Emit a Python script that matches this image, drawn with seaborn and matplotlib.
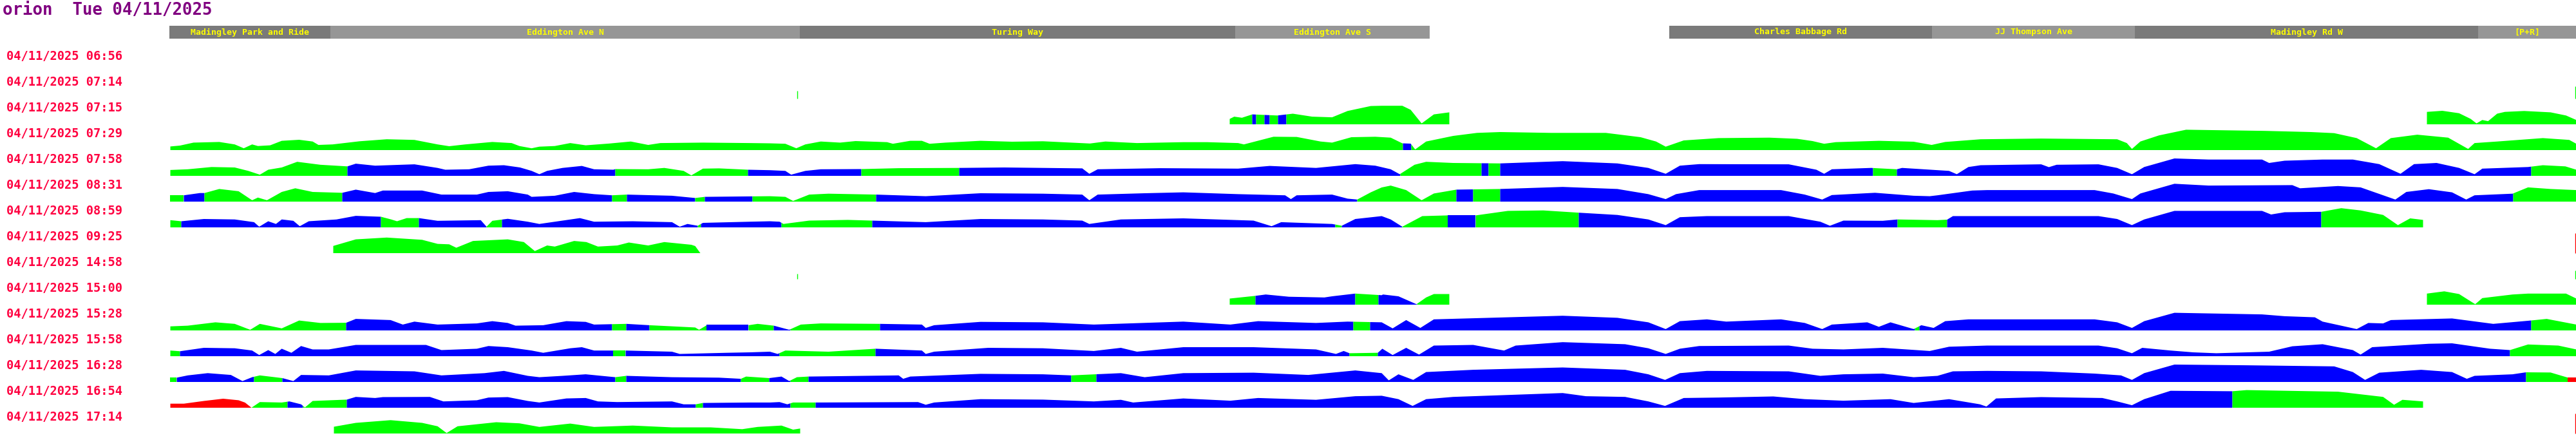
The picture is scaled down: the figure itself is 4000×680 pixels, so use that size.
import numpy as np
import matplotlib
matplotlib.use("Agg")
import matplotlib.pyplot as plt
import seaborn as sns

# ---------------- data ----------------
TITLE = "orion  Tue 04/11/2025"
ROW_TIMES = ["06:56", "07:14", "07:15", "07:29", "07:58", "08:31", "08:59", "09:25",
             "14:58", "15:00", "15:28", "15:58", "16:28", "16:54", "17:14"]
DATE = "04/11/2025"

HEADER_NAMES = ["Madingley Park and Ride", "Eddington Ave N", "Turing Way", "Eddington Ave S",
                "Charles Babbage Rd", "JJ Thompson Ave", "Madingley Rd W", "[P+R]"]
HEADER_START = [263, 513, 1242, 1918, 2592, 3000, 3315, 3848]
HEADER_END = [513, 1242, 1918, 2220, 3000, 3315, 3848, 4000]
HEADER_SHADE = ["d", "l", "d", "l", "d", "l", "d", "l"]

# profiles: (position along route, height)
ROW2 = [(1909, 8.4), (1916, 11.9), (1928, 10.2), (1944, 15.4), (1983, 13.7), (2007, 16.5), (2037, 11.9),
        (2068, 10.9), (2092, 20.7), (2128, 28.4), (2145, 28.8), (2177, 28.8), (2190, 22.5), (2207, 1.4),
        (2226, 15.4), (2250, 18.6),
        (3768, 19.3), (3792, 21), (3818, 17.2), (3836, 8.4), (3845, 1.4), (3854, 6.7), (3863, 4.9),
        (3877, 16.5), (3889, 19.3), (3919, 20.7), (3960, 18.6), (3984, 13.7), (4000, 6.7)]
SEG2 = [(1909, 1944, "g"), (1944, 1950, "b"), (1950, 1963, "g"), (1963, 1971, "b"), (1971, 1984, "g"),
        (1984, 1997, "b"), (1997, 2250, "g"), (3768, 4000, "g")]

ROW3 = [(264, 5.6), (279, 7), (300, 11.6), (340, 12.6), (364, 8.8), (378, 2.8), (391, 8.8), (400, 6.3),
        (419, 7.4), (437, 14.4), (464, 16), (485, 13.3), (494, 8), (516, 8.8), (558, 13.7), (600, 16.8),
        (643, 15.8), (679, 8.8), (697, 6), (722, 8.8), (764, 12.6), (794, 10.9), (806, 6.3), (825, 2.8),
        (837, 5.3), (861, 6.3), (885, 10.9), (909, 7.4), (946, 10.2), (979, 13.3), (1006, 8), (1025, 10.9),
        (1091, 11.6), (1164, 10.9), (1195, 10.5), (1219, 9.8), (1236, 2.8), (1250, 8.8), (1274, 13.3),
        (1304, 11.6), (1328, 14), (1377, 12.3), (1386, 9.8), (1413, 14.4), (1431, 14.4), (1443, 9.8),
        (1468, 11.6), (1522, 14.4), (1571, 13), (1619, 13.7), (1692, 10.2), (1716, 13.3), (1765, 10.9),
        (1837, 12.3), (1874, 12.3), (1922, 10.9), (1931, 8.8), (1977, 20.7), (2013, 20.4), (2037, 15.8),
        (2050, 13.3), (2068, 11.6), (2098, 20), (2135, 20.7), (2159, 19.3), (2177, 10.5), (2190, 10),
        (2197, 1), (2214, 13.3), (2256, 22), (2293, 26.7), (2329, 28), (2408, 26.7), (2493, 26.7),
        (2547, 20), (2571, 13.3), (2586, 5.3), (2614, 15), (2668, 18.6), (2747, 19.3), (2790, 17.5),
        (2814, 14), (2832, 9.8), (2850, 12.3), (2917, 14.4), (2971, 13), (2999, 8), (3020, 12.6),
        (3075, 16.8), (3169, 17.9), (3287, 16.8), (3302, 10.9), (3310, 1.8), (3323, 13.3), (3352, 22.8),
        (3394, 31.6), (3517, 29.8), (3588, 28), (3624, 26.3), (3659, 18.6), (3689, 2.8), (3712, 18.6),
        (3753, 23.9), (3801, 19.3), (3832, 1.8), (3842, 10.9), (3877, 13.3), (3948, 18.6), (3989, 15.8),
        (4000, 9.8)]
SEG3 = [(264, 2178, "g"), (2178, 2191, "b"), (2191, 4000, "g")]

ROW4 = [(264, 9.1), (291, 10.2), (328, 13.7), (364, 13), (385, 7.7), (403, 1.8), (416, 9.5), (437, 13),
        (461, 21.8), (497, 17.2), (539, 14.7), (552, 18.9), (582, 15.8), (643, 17.9), (679, 12.3),
        (691, 9.5), (728, 10.2), (758, 15.8), (782, 16.5), (807, 13), (825, 7.7), (837, 2.5), (849, 7.7),
        (873, 12.3), (903, 15.4), (922, 10.2), (952, 9.5), (955, 10.5), (1006, 10.2), (1031, 12.3),
        (1061, 7.7), (1073, 0.7), (1091, 11.2), (1116, 11.6), (1161, 9.5), (1195, 8.8), (1219, 7.7),
        (1228, 1.8), (1250, 7.7), (1274, 10.2), (1337, 10.5), (1395, 11.9), (1489, 12.3), (1559, 13),
        (1680, 11.6), (1691, 3.2), (1704, 10.2), (1801, 11.9), (1922, 11.2), (1971, 15.4), (2043, 12.3),
        (2104, 18.2), (2135, 15.8), (2159, 10.2), (2173, 2.5), (2196, 17.2), (2214, 21.8), (2256, 20),
        (2329, 19.3), (2426, 22.8), (2511, 19.3), (2559, 12.3), (2586, 3.2), (2608, 15.8), (2638, 18.2),
        (2777, 17.9), (2820, 9.5), (2832, 3.2), (2844, 10.2), (2905, 12.3), (2945, 10.2), (2953, 12.3),
        (3026, 7.7), (3038, 2.5), (3056, 13.7), (3075, 16.5), (3169, 17.9), (3181, 13.5), (3193, 17.2),
        (3258, 17.9), (3287, 12.3), (3310, 2.5), (3329, 13.7), (3376, 27), (3429, 25.3), (3512, 25.3),
        (3523, 20), (3547, 23.5), (3606, 25.3), (3653, 25.3), (3694, 18.2), (3727, 3.2), (3748, 18.2),
        (3783, 20), (3818, 12.3), (3842, 2.5), (3854, 11.2), (3925, 13.7), (3948, 16.5), (3983, 14.7),
        (4000, 9.5)]
SEG4 = [(264, 539, "g"), (539, 955, "b"), (955, 1161, "g"), (1161, 1337, "b"), (1337, 1489, "g"),
        (1489, 2174, "b"), (2174, 2300, "g"), (2300, 2311, "b"), (2311, 2329, "g"), (2329, 2908, "b"),
        (2908, 2945, "g"), (2945, 3930, "b"), (3930, 4000, "g")]

ROW5 = [(264, 9.8), (285, 9.8), (310, 13.3), (317, 13.3), (340, 19.6), (370, 16.1), (391, 2.1), (400, 6.3),
        (414, 2.1), (437, 15), (458, 20.7), (485, 15), (531, 13.7), (552, 18.6), (582, 13.3), (594, 17.2),
        (655, 17.2), (685, 10.9), (740, 10.9), (758, 15), (788, 16.1), (819, 10.9), (825, 7.4), (861, 9.1),
        (891, 15), (922, 11.6), (950, 9.8), (973, 10.9), (1043, 9.1), (1079, 5.6), (1094, 7.4), (1164, 8.1),
        (1195, 8.4), (1219, 7.4), (1231, 1), (1256, 10.9), (1286, 12.3), (1360, 10.9), (1437, 8.4),
        (1522, 13), (1619, 12.3), (1680, 10.9), (1691, 2.1), (1704, 10.9), (1777, 13), (1837, 14.4),
        (1922, 11.6), (1995, 9.8), (2004, 3.9), (2013, 9.8), (2068, 10.9), (2092, 4.6), (2107, 3.2),
        (2128, 14.4), (2145, 22), (2159, 24.9), (2183, 17.9), (2207, 2.1), (2226, 12.6), (2261, 18.6),
        (2329, 19.6), (2426, 22.8), (2511, 19.6), (2559, 11.6), (2586, 3.9), (2602, 11.6), (2638, 17.9),
        (2765, 17.9), (2802, 10.9), (2829, 3.2), (2844, 10.2), (2911, 13.7), (2971, 9.1), (2996, 8.4),
        (3008, 9.8), (3062, 17.2), (3085, 17.9), (3252, 17.9), (3281, 12.6), (3310, 3.9), (3323, 12.6),
        (3376, 27.7), (3429, 24.9), (3559, 25.6), (3571, 20.7), (3630, 24.2), (3665, 22.1), (3719, 3.2),
        (3736, 15), (3771, 19.3), (3807, 14.4), (3829, 3.2), (3842, 9.8), (3901, 12.3), (3925, 22.1),
        (3960, 19.6), (4000, 17.9)]
SEG5 = [(264, 285, "g"), (285, 317, "b"), (317, 531, "g"), (531, 950, "b"), (950, 973, "g"),
        (973, 1079, "b"), (1079, 1094, "g"), (1094, 1168, "b"), (1168, 1360, "g"), (1360, 2107, "b"),
        (2107, 2261, "g"), (2261, 2287, "b"), (2287, 2329, "g"), (2329, 3902, "b"), (3902, 4000, "g")]

ROW6 = [(264, 11.2), (281, 9.5), (316, 13), (364, 12.3), (394, 8.1), (402, 1), (416, 9.5), (428, 5.3),
        (437, 12.3), (455, 10.2), (465, 1.8), (479, 9.5), (522, 12.3), (552, 17.9), (591, 16.5), (607, 12.3),
        (616, 9.5), (631, 14.4), (650, 14.4), (679, 10.2), (746, 11.2), (755, 1), (764, 10.2), (788, 13.3),
        (819, 8.8), (837, 5.3), (873, 10.5), (900, 14.4), (922, 8.8), (982, 9.5), (1043, 8.1), (1055, 1),
        (1067, 5.3), (1083, 2.5), (1091, 7), (1164, 8.8), (1195, 9.5), (1210, 8.8), (1216, 5.3), (1256, 10.5),
        (1316, 11.6), (1354, 10.5), (1437, 8.1), (1522, 13), (1619, 12.3), (1680, 10.5), (1691, 5.3),
        (1740, 12.3), (1837, 14), (1946, 10.5), (1974, 1.8), (1989, 8.1), (2068, 5.3), (2083, 2.5),
        (2104, 13), (2145, 17.5), (2159, 12.3), (2177, 1), (2208, 17.5), (2248, 18.6), (2291, 18.6),
        (2341, 25.6), (2396, 26.3), (2451, 22.8), (2511, 19.3), (2559, 12.3), (2586, 3.5), (2608, 15.8),
        (2650, 17.5), (2777, 17.5), (2826, 8.8), (2841, 2.5), (2862, 10.5), (2923, 10.2), (2946, 12.3),
        (3008, 11.2), (3023, 12), (3032, 17.5), (3085, 17.5), (3258, 17.5), (3287, 13), (3310, 3.5),
        (3329, 12.3), (3376, 25.6), (3512, 25.6), (3526, 20), (3547, 23.5), (3604, 24.2), (3635, 29.8),
        (3665, 26.3), (3700, 19.3), (3723, 3.5), (3742, 14), (3762, 11.6)]
SEG6 = [(264, 281, "g"), (281, 591, "b"), (591, 650, "g"), (650, 755, "b"), (755, 779, "g"),
        (779, 1083, "b"), (1083, 1088, "g"), (1088, 1213, "b"), (1213, 1354, "g"), (1354, 2073, "b"),
        (2073, 2083, "g"), (2083, 2177, "b"), (2177, 2248, "g"), (2248, 2291, "b"), (2291, 2451, "g"),
        (2451, 2946, "b"), (2946, 3023, "g"), (3023, 3604, "b"), (3604, 3762, "g")]

ROW7 = [(517, 11.2), (552, 21.4), (600, 24.2), (655, 20.7), (679, 14.4), (697, 13.7), (708, 8.4),
        (734, 18.9), (788, 21.4), (813, 17.2), (830, 3.2), (849, 11.9), (861, 10.2), (891, 18.9),
        (910, 17.2), (928, 10.2), (958, 11.9), (976, 16.5), (1006, 11.9), (1031, 17.2), (1073, 13),
        (1079, 11), (1087, 0)]
SEG7 = [(517, 1087, "g")]

ROW9 = [(1909, 9.5), (1949, 13.7), (1965, 15.8), (2001, 12.3), (2056, 11.2), (2068, 13), (2104, 17.2),
        (2145, 14.7), (2147, 15.8), (2171, 13), (2199, 0.7), (2214, 11.2), (2226, 16.5), (2250, 16.5),
        (3768, 17.2), (3795, 20.7), (3818, 16.5), (3843, 0.7), (3854, 10.2), (3901, 15.8), (3925, 17.2),
        (3984, 17.2), (4000, 9.5)]
SEG9 = [(1909, 1949, "g"), (1949, 2104, "b"), (2104, 2140, "g"), (2140, 2200, "b"), (2200, 2250, "g"),
        (3768, 4000, "g")]

ROW10 = [(264, 6.3), (291, 7.4), (334, 12.6), (364, 10.2), (388, 1), (403, 10.2), (437, 3.2), (464, 15.4),
         (497, 11.6), (537, 11.9), (552, 17.9), (606, 16.1), (625, 9.1), (643, 13.7), (679, 9.1), (740, 10.9),
         (764, 14.4), (788, 11.6), (800, 7.4), (843, 8.1), (879, 14.4), (909, 13.3), (922, 9.1), (972, 10.2),
         (1008, 8.1), (1079, 4.6), (1085, 1), (1097, 8.1), (1162, 8.1), (1176, 10.2), (1201, 7.4), (1225, 1),
         (1243, 9.1), (1274, 10.9), (1366, 10.2), (1431, 9.1), (1437, 3.9), (1450, 8.1), (1522, 13.3),
         (1619, 12.6), (1698, 9.1), (1837, 13.7), (1910, 9.1), (1953, 14.4), (2043, 11.6), (2092, 13.7),
         (2145, 12.6), (2162, 3.2), (2183, 16.1), (2205, 3.9), (2226, 17.2), (2287, 18.9), (2426, 22.8),
         (2511, 19.6), (2559, 12.6), (2586, 2.1), (2608, 14.4), (2650, 17.2), (2680, 13.7), (2765, 17.2),
         (2802, 11.6), (2829, 2.1), (2844, 9.1), (2899, 12.6), (2917, 5.6), (2935, 12.6), (2971, 2.1),
         (2983, 8.1), (3002, 3.9), (3020, 14.4), (3056, 17.2), (3085, 17.2), (3252, 17.2), (3287, 12.6),
         (3310, 3.9), (3329, 14.4), (3376, 27.4), (3512, 24.9), (3547, 22.1), (3594, 20.4), (3606, 13.7),
         (3659, 2.1), (3677, 11.6), (3700, 10.9), (3712, 16.1), (3807, 18.6), (3871, 10.2), (3925, 15),
         (3954, 17.9), (4000, 9.1)]
SEG10 = [(264, 537, "g"), (537, 950, "b"), (950, 972, "g"), (972, 1008, "b"), (1008, 1097, "g"),
         (1097, 1162, "b"), (1162, 1201, "g"), (1201, 1227, "b"), (1227, 1366, "g"), (1366, 2101, "b"),
         (2101, 2127, "g"), (2127, 2973, "b"), (2973, 2980, "g"), (2980, 3930, "b"), (3930, 4000, "g")]

ROW11 = [(264, 8.8), (279, 7.7), (316, 13), (364, 12.3), (391, 8.8), (402, 1.8), (416, 9.5), (427, 3.5),
         (437, 11.6), (452, 5.3), (467, 15.8), (485, 10.5), (510, 10.5), (552, 17.5), (661, 17.5), (685, 9.5),
         (740, 11.6), (758, 15.8), (788, 14), (825, 8.8), (843, 5.3), (885, 12.3), (903, 14), (922, 8.8),
         (971, 8.8), (1043, 7), (1055, 3.5), (1128, 5.3), (1164, 6), (1195, 7), (1207, 3.5), (1219, 8.8),
         (1286, 7), (1359, 11.6), (1431, 8.8), (1437, 3.5), (1450, 7), (1534, 13), (1619, 12.3), (1698, 8.1),
         (1740, 13), (1765, 7), (1837, 14), (1946, 14), (2043, 10.5), (2074, 3.5), (2086, 8.1), (2095, 4.6),
         (2139, 5.3), (2146, 11.6), (2162, 1.8), (2183, 13), (2203, 2.5), (2226, 16.5), (2287, 17.5),
         (2335, 8.8), (2353, 16.5), (2426, 21.8), (2523, 18.6), (2559, 12.3), (2586, 3.5), (2608, 11.6),
         (2638, 15.8), (2777, 16.5), (2814, 11.6), (2862, 10.5), (2923, 13), (2996, 8.1), (3026, 14.7),
         (3085, 16.5), (3258, 16.5), (3287, 12.3), (3310, 4.6), (3326, 13), (3370, 8.8), (3405, 6),
         (3441, 4.6), (3523, 7), (3559, 15.4), (3606, 18.6), (3653, 9.5), (3665, 2.5), (3683, 14),
         (3771, 19.3), (3807, 20), (3866, 11.6), (3897, 9.5), (3925, 18.2), (3972, 16.5), (4000, 10.5)]
SEG11 = [(264, 279, "g"), (279, 952, "b"), (952, 971, "g"), (971, 1210, "b"), (1210, 1359, "g"),
         (1359, 2095, "b"), (2095, 2139, "g"), (2139, 3897, "b"), (3897, 4000, "g")]

ROW12 = [(264, 6.7), (274, 6.7), (291, 10.2), (322, 13.7), (358, 10.9), (376, 1.4), (391, 7.4), (403, 10.2),
         (438, 6), (455, 1.4), (467, 10.9), (510, 10.2), (552, 17.9), (643, 16.5), (685, 10.2), (752, 13.7),
         (782, 17.2), (819, 9.5), (837, 7.4), (873, 9.5), (909, 11.9), (955, 7.4), (972, 9.5), (1043, 7.4),
         (1116, 6.7), (1150, 4.9), (1158, 8.4), (1194, 6), (1213, 8.4), (1225, 1.4), (1237, 7.4), (1255, 8.4),
         (1395, 10.2), (1402, 4.9), (1413, 8.4), (1522, 12.6), (1619, 11.9), (1663, 10.2), (1740, 13.7),
         (1777, 7.4), (1837, 13.7), (1946, 14.4), (2031, 10.9), (2104, 17.9), (2145, 13.7), (2156, 2.5),
         (2171, 11.9), (2194, 3.2), (2214, 15.4), (2287, 18.9), (2426, 22.5), (2523, 18.9), (2559, 11.9),
         (2585, 3.2), (2608, 13.7), (2650, 17.2), (2777, 16.5), (2826, 9.5), (2862, 11.9), (2923, 13),
         (2971, 7.4), (3008, 9.5), (3032, 16.5), (3085, 17.2), (3169, 16.5), (3252, 13), (3293, 10.2),
         (3310, 3.2), (3329, 13.7), (3376, 27), (3488, 25.9), (3624, 24.2), (3653, 15.4), (3672, 3.2),
         (3694, 14.4), (3759, 18.9), (3807, 15.4), (3830, 4.9), (3842, 9.5), (3901, 11.9), (3922, 15),
         (3960, 14.7), (3987, 6.7), (4000, 6.7)]
SEG12 = [(264, 274, "g"), (274, 394, "b"), (394, 438, "g"), (438, 955, "b"), (955, 972, "g"),
         (972, 1150, "b"), (1150, 1194, "g"), (1194, 1227, "b"), (1227, 1255, "g"), (1255, 1663, "b"),
         (1663, 1702, "g"), (1702, 3922, "b"), (3922, 3987, "g"), (3987, 4000, "r")]

ROW13 = [(264, 6.3), (285, 6.3), (316, 10.5), (346, 14), (370, 11.6), (380, 8), (390, 0), (403, 8.8),
         (437, 8.1), (449, 9.8), (467, 5.3), (473, 0.4), (485, 10.5), (538, 12.6), (552, 16.8), (582, 15.1),
         (594, 16.5), (667, 16.8), (688, 9.8), (740, 11.6), (758, 15.8), (788, 16.5), (819, 10.5), (837, 8.1),
         (879, 14.4), (909, 15.1), (928, 9.8), (958, 8.8), (1043, 9.8), (1061, 5.3), (1080, 5.3), (1091, 7.4),
         (1164, 8.1), (1195, 8.1), (1210, 8.8), (1222, 5.3), (1231, 8.1), (1266, 8.1), (1425, 8.8),
         (1437, 4.6), (1450, 8.1), (1522, 13.3), (1619, 12.6), (1698, 9.8), (1740, 12.3), (1759, 8.1),
         (1837, 14.4), (1910, 10.9), (1953, 15.1), (2043, 12.3), (2104, 17.9), (2145, 18.6), (2171, 13.3),
         (2193, 2.8), (2214, 13.3), (2256, 16.8), (2426, 22.8), (2462, 17.9), (2523, 16.8), (2559, 9.8),
         (2585, 2.8), (2614, 15.1), (2668, 15.8), (2753, 17.5), (2802, 13.3), (2862, 10.9), (2935, 13.3),
         (2971, 7.4), (3026, 13.3), (3074, 5.3), (3084, 1.8), (3099, 14.4), (3169, 16.5), (3264, 15.1),
         (3287, 9.8), (3310, 3.9), (3329, 13.3), (3370, 26.3), (3466, 25.6), (3488, 27.4), (3630, 24.9),
         (3700, 16.8), (3717, 4.6), (3730, 12.3), (3762, 9.8)]
SEG13 = [(264, 390, "r"), (390, 446, "g"), (446, 470, "b"), (470, 538, "g"), (538, 1080, "b"),
         (1080, 1091, "g"), (1091, 1227, "b"), (1227, 1266, "g"), (1266, 3466, "b"), (3466, 3762, "g")]

ROW14 = [(518, 10.5), (552, 16.5), (606, 20.7), (655, 16.5), (679, 11.2), (693, 0.7), (710, 11.2),
         (770, 17.5), (806, 15.8), (837, 10.2), (885, 15.4), (922, 10.2), (982, 12.3), (1043, 9.5),
         (1103, 9.5), (1152, 6.7), (1176, 10.2), (1213, 12.3), (1231, 6), (1242, 7.7)]
SEG14 = [(518, 1242, "g")]

# single readings drawn as thin ticks: (row index, position, height, colour)
TICKS = [(1, 1238, 12, "g"), (1, 3999, 19, "g"), (7, 3999, 31, "r"),
         (8, 1238, 8, "g"), (8, 3999, 13, "g"), (14, 3999, 31, "r")]

PROFILES = {2: (ROW2, SEG2), 3: (ROW3, SEG3), 4: (ROW4, SEG4), 5: (ROW5, SEG5), 6: (ROW6, SEG6),
            7: (ROW7, SEG7), 9: (ROW9, SEG9), 10: (ROW10, SEG10), 11: (ROW11, SEG11),
            12: (ROW12, SEG12), 13: (ROW13, SEG13), 14: (ROW14, SEG14)}

# ---------------- style ----------------
sns.set_theme(style="white")
plt.rcParams["font.family"] = ["DejaVu Sans Mono", "DejaVu Sans"]

COLORS = {"g": "#00FF00", "b": "#0000FF", "r": "#FF0000"}
SHADES = {"d": "#7A7A7A", "l": "#969696"}
W, H = 4000, 680
ROW_GAP = 40
FIRST_BASE = 112.5  # pixel row of first baseline (from top)

fig = plt.figure(figsize=(W / 100, H / 100), dpi=100)
ax = fig.add_axes([0, 0, 1, 1])
ax.set_xlim(0, W)
ax.set_ylim(0, H)
ax.axis("off")


def base_of(i):
    return H - (FIRST_BASE + ROW_GAP * i)


# title
ax.text(4, H - 16, TITLE, color="#800080", fontsize=18.5, fontweight="bold",
        ha="left", va="center")

# header strip
for name, s, e, sh in zip(HEADER_NAMES, HEADER_START, HEADER_END, HEADER_SHADE):
    ax.barh(H - 50, e - s, left=s, height=20, color=SHADES[sh], linewidth=0)
    ax.text((s + e) / 2, H - 50, name, color="#FFFF00", fontsize=9.5, fontweight="bold",
            ha="center", va="center")

# row labels
for i, t in enumerate(ROW_TIMES):
    ax.text(10, base_of(i) + 25, f"{DATE} {t}", color="#FF0040", fontsize=13.5,
            fontweight="bold", ha="left", va="center")

# profiles
for i, (pairs, segs) in PROFILES.items():
    x = np.array([p[0] for p in pairs], dtype=float)
    h = np.array([p[1] for p in pairs], dtype=float)
    b = base_of(i)
    for s, e, c in segs:
        m = (x > s) & (x < e)
        xs = np.concatenate([[s], x[m], [e]])
        hs = np.concatenate([[np.interp(s, x, h)], h[m], [np.interp(e, x, h)]])
        ax.fill_between(xs, b, b + hs, color=COLORS[c], linewidth=0, antialiased=False)

for i, pos, hh, c in TICKS:
    b = base_of(i)
    ax.vlines(pos, b, b + hh, color=COLORS[c], linewidth=1.0)

fig.savefig("out.png", dpi=100, facecolor="white")
